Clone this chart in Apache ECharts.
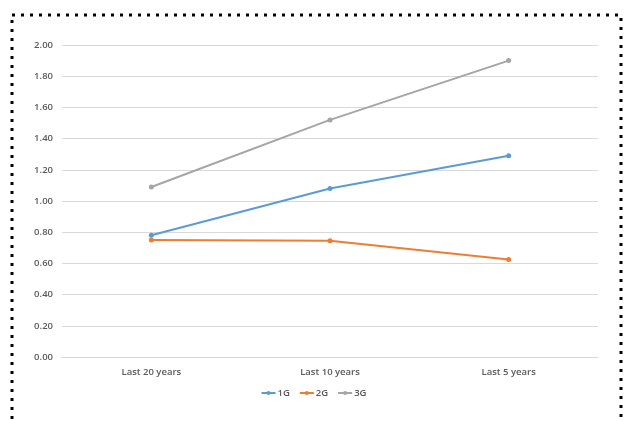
<!DOCTYPE html>
<html><head><meta charset="utf-8">
<script src="https://cdn.jsdelivr.net/npm/echarts@6/dist/echarts.min.js"></script>
<style>html,body{margin:0;padding:0;background:#fff}#c{width:627px;height:421px}</style>
</head><body><div id="c"></div>
<script>
var categories = ['Last 20 years', 'Last 10 years', 'Last 5 years'];
var seriesNames = ['1G', '2G', '3G'];
var values1G = [0.78, 1.08, 1.29];
var values2G = [0.75, 0.745, 0.625];
var values3G = [1.09, 1.52, 1.90];
var colors = ['#5B9BD5', '#ED7D31', '#A5A5A5'];

var chart = echarts.init(document.getElementById('c'), null, {renderer: 'canvas'});
var font = '"Open Sans", "Liberation Sans", sans-serif';
function mk(name, data, color) {
  return {
    name: name, type: 'line', data: data,
    symbol: 'circle', symbolSize: 5,
    lineStyle: {color: color, width: 2},
    itemStyle: {color: color},
    emphasis: {disabled: true}
  };
}
chart.setOption({
  animation: false,
  backgroundColor: '#fff',
  textStyle: {fontFamily: font},
  grid: {left: 62, right: 29, top: 45, bottom: 64, containLabel: false},
  graphic: [{
    type: 'rect',
    shape: {x: 12, y: 15, width: 609, height: 430},
    style: {fill: null, stroke: '#000', lineWidth: 3, lineDash: [3, 6]},
    silent: true
  }],
  legend: {
    bottom: 18, left: 'center',
    itemWidth: 14, itemHeight: 5, itemGap: 9,
    itemStyle: {},
    textStyle: {fontSize: 9.5, fontWeight: 600, color: '#595959', fontFamily: font, padding: [0, 0, 0, -3]},
    data: seriesNames
  },
  xAxis: {
    type: 'category', data: categories, boundaryGap: true,
    axisLine: {show: true, lineStyle: {color: '#d9d9d9', width: 1}},
    axisTick: {show: false},
    axisLabel: {fontSize: 9.5, fontWeight: 600, color: '#595959', margin: 10, fontFamily: font}
  },
  yAxis: {
    type: 'value', min: 0, max: 2, interval: 0.2,
    axisLine: {show: false}, axisTick: {show: false},
    splitLine: {lineStyle: {color: '#d9d9d9', width: 1}},
    axisLabel: {fontSize: 9.5, fontWeight: 600, color: '#595959', margin: 9, fontFamily: font,
      formatter: function (v) { return v.toFixed(2); }}
  },
  series: [mk(seriesNames[0], values1G, colors[0]), mk(seriesNames[1], values2G, colors[1]), mk(seriesNames[2], values3G, colors[2])]
});
</script></body></html>
